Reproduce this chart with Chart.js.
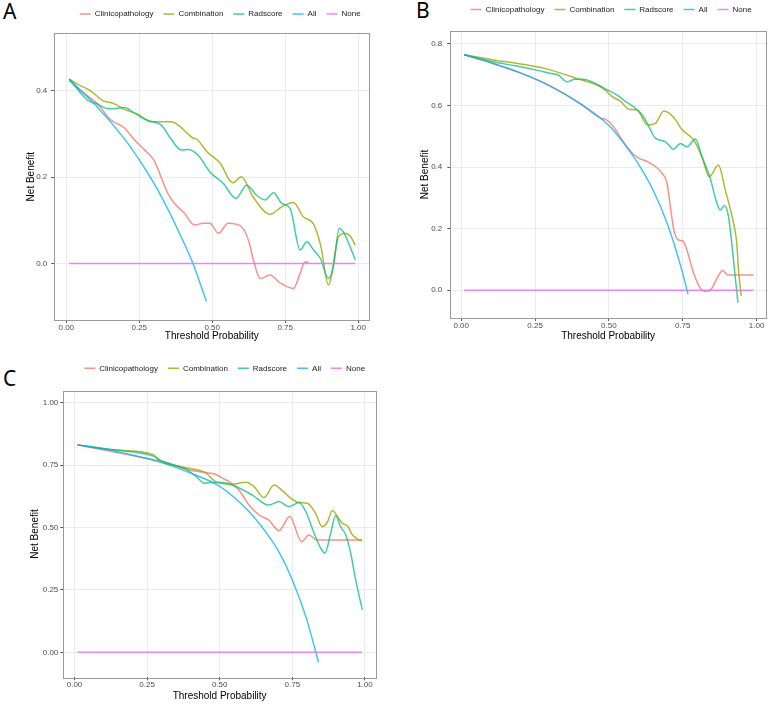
<!DOCTYPE html>
<html>
<head>
<meta charset="utf-8">
<script src="https://cdn.jsdelivr.net/npm/chart.js@4.4.1/dist/chart.umd.min.js"></script>
<style>
  body { margin: 0; background: #fff; width: 772px; height: 705px; position: relative; overflow: hidden; }
  canvas { position: absolute; }
  .tag { position: absolute; font-family: "Noto Sans", sans-serif; font-size: 21px; line-height: 1; color: #000; }
</style>
</head>
<body>
<div class="tag" style="left:3px;top:1px">A</div>
<div class="tag" style="left:416px;top:0px">B</div>
<div class="tag" style="left:3px;top:368px">C</div>
<canvas id="chartA" width="386" height="355" style="left:0;top:-5px"></canvas>
<canvas id="chartB" width="386" height="355" style="left:386px;top:-5px"></canvas>
<canvas id="chartC" width="386" height="365" style="left:0;top:340px"></canvas>
<script>
// ---- data ----
const seriesNames = ['Clinicopathology', 'Combination', 'Radscore', 'All', 'None'];
const xTicks = [0, 0.25, 0.5, 0.75, 1];
const xTickLabels = ['0.00', '0.25', '0.50', '0.75', '1.00'];

// panel A
const aYTicks = [0, 0.2, 0.4];
const aYTickLabels = ['0.0', '0.2', '0.4'];
const aClinX = [0.01, 0.06, 0.11, 0.15, 0.20, 0.234, 0.268, 0.30, 0.348, 0.371, 0.405, 0.44, 0.468, 0.492, 0.521, 0.555, 0.60, 0.624, 0.641, 0.664, 0.698, 0.732, 0.778, 0.801, 0.818, 0.83];
const aClinY = [0.427, 0.395, 0.368, 0.334, 0.313, 0.286, 0.263, 0.239, 0.162, 0.139, 0.116, 0.089, 0.093, 0.093, 0.070, 0.093, 0.085, 0.054, 0.008, -0.035, -0.027, -0.045, -0.058, -0.023, 0.004, 0.002];
const aCombX = [0.01, 0.045, 0.085, 0.125, 0.16, 0.205, 0.25, 0.29, 0.36, 0.39, 0.43, 0.45, 0.483, 0.527, 0.57, 0.60, 0.64, 0.698, 0.738, 0.778, 0.812, 0.847, 0.872, 0.898, 0.933, 0.955, 0.973, 0.99];
const aCombY = [0.427, 0.413, 0.399, 0.377, 0.371, 0.355, 0.344, 0.328, 0.328, 0.317, 0.292, 0.286, 0.258, 0.232, 0.187, 0.201, 0.154, 0.114, 0.131, 0.141, 0.108, 0.091, 0.040, -0.050, 0.062, 0.070, 0.063, 0.042];
const aRadX = [0.01, 0.073, 0.10, 0.148, 0.20, 0.228, 0.262, 0.297, 0.325, 0.354, 0.394, 0.417, 0.451, 0.492, 0.538, 0.581, 0.618, 0.652, 0.681, 0.71, 0.738, 0.767, 0.801, 0.824, 0.847, 0.87, 0.898, 0.915, 0.935, 0.949, 0.972, 0.99];
const aRadY = [0.427, 0.378, 0.371, 0.358, 0.361, 0.351, 0.336, 0.328, 0.321, 0.293, 0.263, 0.264, 0.251, 0.212, 0.185, 0.151, 0.181, 0.158, 0.147, 0.164, 0.139, 0.127, 0.031, 0.050, 0.031, 0.012, -0.035, -0.008, 0.081, 0.073, 0.039, 0.008];
const aAllX = [0.01, 0.10, 0.20, 0.25, 0.30, 0.35, 0.40, 0.434, 0.48];
const aAllY = [0.424, 0.367, 0.288, 0.24, 0.186, 0.123, 0.052, 0.0, -0.088];
const aNoneX = [0.01, 0.99];
const aNoneY = [0, 0];

// panel B
const bYTicks = [0, 0.2, 0.4, 0.6, 0.8];
const bYTickLabels = ['0.0', '0.2', '0.4', '0.6', '0.8'];
const bClinX = [0.01, 0.10, 0.20, 0.30, 0.40, 0.474, 0.489, 0.511, 0.545, 0.579, 0.601, 0.630, 0.657, 0.680, 0.697, 0.708, 0.720, 0.736, 0.750, 0.764, 0.787, 0.81, 0.826, 0.846, 0.866, 0.885, 0.903, 0.99];
const bClinY = [0.765, 0.739, 0.706, 0.664, 0.608, 0.558, 0.555, 0.537, 0.488, 0.445, 0.429, 0.418, 0.402, 0.380, 0.347, 0.272, 0.196, 0.163, 0.161, 0.131, 0.055, 0.006, -0.004, 0.003, 0.039, 0.064, 0.050, 0.050];
const bCombX = [0.01, 0.109, 0.188, 0.289, 0.39, 0.48, 0.511, 0.540, 0.568, 0.596, 0.630, 0.657, 0.686, 0.719, 0.748, 0.787, 0.815, 0.840, 0.871, 0.894, 0.922, 0.933, 0.939, 0.948];
const bCombY = [0.765, 0.748, 0.737, 0.719, 0.688, 0.656, 0.629, 0.613, 0.588, 0.585, 0.537, 0.542, 0.582, 0.562, 0.521, 0.488, 0.434, 0.369, 0.407, 0.326, 0.218, 0.153, 0.066, -0.018];
const bRadX = [0.01, 0.109, 0.188, 0.255, 0.30, 0.328, 0.359, 0.384, 0.413, 0.458, 0.489, 0.523, 0.557, 0.590, 0.613, 0.636, 0.657, 0.691, 0.719, 0.742, 0.764, 0.793, 0.815, 0.843, 0.866, 0.877, 0.891, 0.905, 0.916, 0.930, 0.937];
const bRadY = [0.765, 0.742, 0.728, 0.715, 0.705, 0.699, 0.677, 0.685, 0.685, 0.670, 0.653, 0.637, 0.613, 0.591, 0.569, 0.531, 0.494, 0.483, 0.458, 0.477, 0.466, 0.491, 0.434, 0.364, 0.282, 0.261, 0.275, 0.239, 0.153, 0.023, -0.04];
const bAllX = [0.01, 0.10, 0.20, 0.30, 0.40, 0.50, 0.55, 0.60, 0.65, 0.70, 0.75, 0.768];
const bAllY = [0.765, 0.739, 0.706, 0.664, 0.608, 0.535, 0.478, 0.41, 0.325, 0.21, 0.055, -0.013];
const bNoneX = [0.01, 0.99];
const bNoneY = [0, 0];

// panel C
const cYTicks = [0, 0.25, 0.5, 0.75, 1];
const cYTickLabels = ['0.00', '0.25', '0.50', '0.75', '1.00'];
const cClinX = [0.01, 0.247, 0.305, 0.396, 0.454, 0.482, 0.511, 0.532, 0.566, 0.601, 0.635, 0.669, 0.704, 0.741, 0.782, 0.807, 0.835, 0.99];
const cClinY = [0.831, 0.777, 0.764, 0.730, 0.720, 0.714, 0.697, 0.684, 0.650, 0.590, 0.550, 0.530, 0.487, 0.544, 0.443, 0.470, 0.450, 0.450];
const cCombX = [0.01, 0.133, 0.27, 0.293, 0.362, 0.454, 0.483, 0.543, 0.589, 0.618, 0.652, 0.687, 0.715, 0.745, 0.773, 0.801, 0.83, 0.853, 0.871, 0.888, 0.905, 0.922, 0.94, 0.957, 0.98, 0.99];
const cCombY = [0.831, 0.811, 0.793, 0.768, 0.744, 0.717, 0.686, 0.673, 0.681, 0.664, 0.620, 0.670, 0.648, 0.617, 0.600, 0.597, 0.557, 0.503, 0.523, 0.568, 0.544, 0.517, 0.506, 0.470, 0.450, 0.447];
const cRadX = [0.01, 0.133, 0.27, 0.305, 0.385, 0.419, 0.448, 0.465, 0.511, 0.555, 0.612, 0.669, 0.704, 0.738, 0.773, 0.796, 0.825, 0.842, 0.862, 0.882, 0.899, 0.916, 0.934, 0.951, 0.968, 0.991];
const cRadY = [0.831, 0.811, 0.787, 0.764, 0.733, 0.704, 0.677, 0.680, 0.680, 0.664, 0.630, 0.590, 0.604, 0.584, 0.600, 0.564, 0.477, 0.430, 0.397, 0.477, 0.548, 0.503, 0.470, 0.397, 0.290, 0.170];
const cAllX = [0.01, 0.10, 0.20, 0.30, 0.40, 0.50, 0.55, 0.60, 0.65, 0.70, 0.75, 0.80, 0.84];
const cAllY = [0.831, 0.815, 0.79, 0.76, 0.718, 0.665, 0.62, 0.565, 0.495, 0.41, 0.29, 0.13, -0.04];
const cNoneX = [0.01, 0.99];
const cNoneY = [0, 0];

// ggplot hue palette
const lineColors = ['rgba(248,118,109,0.8)', 'rgba(163,165,0,0.8)', 'rgba(0,191,125,0.75)', 'rgba(0,176,246,0.75)', 'rgba(231,107,243,0.8)'];

Chart.defaults.font.family = '"Liberation Sans", Arial, sans-serif';

function pairs(xs, ys) {
  return xs.map((x, i) => ({ x: x, y: ys[i] }));
}

function panel(id, s, lay) {
  // panel border + legend placement
  const frame = {
    id: 'frame',
    beforeLayout(chart) {
      const lg = chart.legend;
      if (lg && !lg._fixed) {
        const fit = lg.fit;
        lg.fit = function () { fit.call(this); this.height = lay.legendH; };
        lg._fixed = true;
      }
    },
    afterLayout(chart) {
      chart.legend.left = chart.chartArea.left;
      chart.legend.right = chart.width;
    },
    afterDraw(chart) {
      const a = chart.chartArea, ctx = chart.ctx;
      ctx.save();
      ctx.strokeStyle = '#9a9a9a';
      ctx.lineWidth = 1;
      ctx.strokeRect(Math.round(a.left) + 0.5, Math.round(a.top) + 0.5, Math.round(a.right - a.left), Math.round(a.bottom - a.top));
      ctx.restore();
    }
  };

  const datasets = s.series.map((d, i) => ({
    label: seriesNames[i],
    data: pairs(d[0], d[1]),
    borderColor: lineColors[i],
    backgroundColor: lineColors[i],
    borderWidth: 1.5,
    pointRadius: 0,
    fill: false,
    cubicInterpolationMode: 'monotone',
    order: 5 - i
  }));

  new Chart(document.getElementById(id), {
    type: 'line',
    data: { datasets: datasets },
    options: {
      responsive: false,
      animation: false,
      events: [],
      layout: { padding: { top: lay.padTop, left: 0, right: lay.padRight, bottom: 0 } },
      plugins: {
        tooltip: { enabled: false },
        legend: {
          position: 'top',
          labels: {
            usePointStyle: true,
            pointStyle: 'line',
            pointStyleWidth: 11,
            padding: 10,
            color: '#222',
            font: { size: 8 },
            sort: (a, b) => a.datasetIndex - b.datasetIndex
          }
        }
      },
      scales: {
        x: {
          type: 'linear',
          min: s.xMin, max: s.xMax,
          afterBuildTicks: sc => { sc.ticks = xTicks.map(v => ({ value: v })); },
          afterFit: sc => { sc.height = lay.xAxisH; },
          ticks: { color: '#4d4d4d', font: { size: 8 }, padding: 0, maxRotation: 0, autoSkip: false,
                   callback: (v, i) => xTickLabels[i] },
          grid: { color: '#ebebeb', tickColor: '#555', tickLength: 3 },
          border: { display: false },
          title: { display: true, text: 'Threshold Probability', color: '#000', font: { size: 10 },
                   padding: { top: 0, bottom: lay.xTitlePad } }
        },
        y: {
          type: 'linear',
          min: s.yMin, max: s.yMax,
          afterBuildTicks: sc => { sc.ticks = s.yTicks.map(v => ({ value: v })); },
          afterFit: sc => { sc.width = lay.yAxisW; },
          ticks: { color: '#4d4d4d', font: { size: 8 }, padding: lay.yTickPad, autoSkip: false,
                   callback: (v, i) => s.yLabels[i] },
          grid: { color: '#ebebeb', tickColor: '#555', tickLength: 3 },
          border: { display: false },
          title: { display: true, text: 'Net Benefit', color: '#000', font: { size: 10 },
                   padding: { top: lay.yTitlePad, bottom: 0 } }
        }
      }
    },
    plugins: [frame]
  });
}

panel('chartA', {
  series: [[aClinX, aClinY], [aCombX, aCombY], [aRadX, aRadY], [aAllX, aAllY], [aNoneX, aNoneY]],
  xMin: -0.041, xMax: 1.038, yMin: -0.131, yMax: 0.533,
  yTicks: aYTicks, yLabels: aYTickLabels
}, { padTop: 5, legendH: 33.3, padRight: 16.7, yAxisW: 54.3, xAxisH: 30, xTitlePad: 7.3, yTitlePad: 25.7, yTickPad: 4 });

panel('chartB', {
  series: [[bClinX, bClinY], [bCombX, bCombY], [bRadX, bRadY], [bAllX, bAllY], [bNoneX, bNoneY]],
  xMin: -0.037, xMax: 1.032, yMin: -0.09, yMax: 0.842,
  yTicks: bYTicks, yLabels: bYTickLabels
}, { padTop: 0.6, legendH: 35.4, padRight: 6, yAxisW: 64.3, xAxisH: 32, xTitlePad: 7.3, yTitlePad: 33.3, yTickPad: 5 });

panel('chartC', {
  series: [[cClinX, cClinY], [cCombX, cCombY], [cRadX, cRadY], [cAllX, cAllY], [cNoneX, cNoneY]],
  xMin: -0.0386, xMax: 1.038, yMin: -0.10, yMax: 1.048,
  yTicks: cYTicks, yLabels: cYTickLabels
}, { padTop: 14.3, legendH: 36.4, padRight: 10, yAxisW: 63.3, xAxisH: 27.7, xTitlePad: 3, yTitlePad: 29, yTickPad: 2 });
</script>
</body>
</html>
